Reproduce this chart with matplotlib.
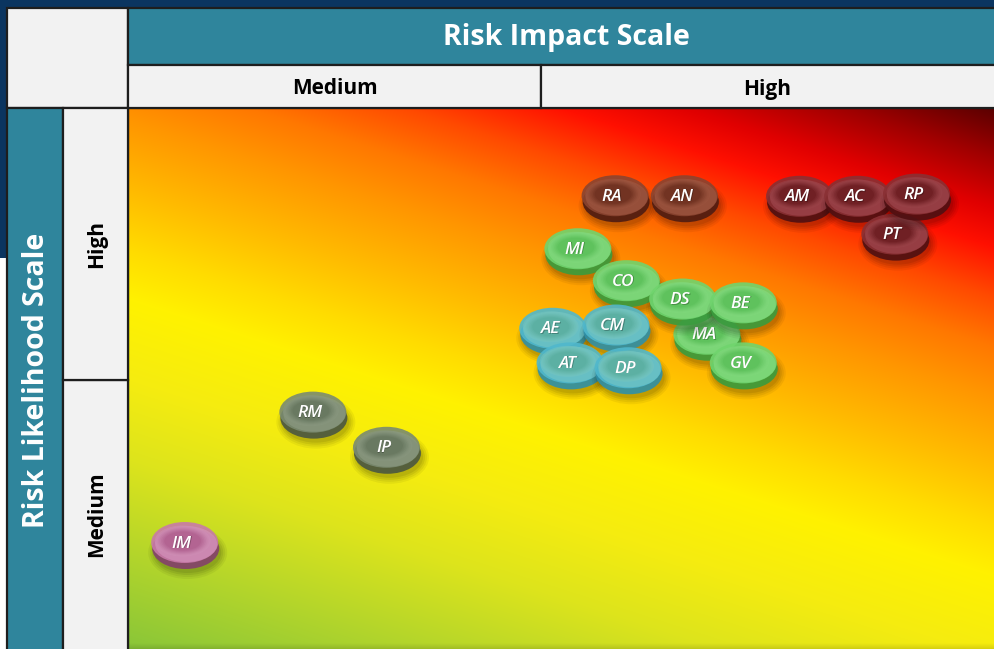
import numpy as np
import matplotlib
matplotlib.use("Agg")
import matplotlib.pyplot as plt
from matplotlib.patches import Rectangle, Ellipse
from matplotlib import colors as mcolors

# ---------------- data ----------------
impact_levels = ["Medium", "High"]
impact_bounds = [0, 47.7, 100]          # impact score (0-100) boundaries
likelihood_levels = ["Medium", "High"]
likelihood_bounds = [0, 49.7, 100]      # likelihood score (0-100) boundaries

labels = ["RA", "AN", "AM", "AC", "RP", "PT",
          "MI", "CO", "DS", "BE", "AE", "CM", "MA", "AT", "DP", "GV",
          "RM", "IP", "IM"]
impact = [55.9, 63.9, 77.2, 83.9, 90.7, 88.2,
          51.6, 57.2, 63.7, 70.7, 48.7, 56.0, 66.5, 50.7, 57.4, 70.7,
          21.0, 29.5, 6.2]
likelihood = [83.6, 83.6, 83.5, 83.5, 83.9, 76.5,
              73.8, 67.9, 64.5, 63.8, 59.1, 59.7, 58.0, 52.7, 51.8, 52.7,
              43.6, 37.1, 19.5]
groups = ["brown", "brown", "red", "red", "red", "red",
          "green", "green", "green", "green", "teal", "teal", "green", "teal", "teal", "green",
          "gray", "gray", "pink"]

# draw order (later = on top)
draw_order = ["RA", "AN", "AM", "AC", "PT", "RP",
              "MI", "AE", "CO", "MA", "DS", "BE", "CM", "AT", "DP", "GV",
              "RM", "IP", "IM"]

palette = {  # (rim, face edge, face centre, highlight)
    "brown": ("#4e1c12", "#8a4430", "#6e301f", "#a25a44"),
    "red":   ("#4e1012", "#8a3034", "#6c1c20", "#a24a50"),
    "green": ("#3a9c3e", "#70d46e", "#5cc05a", "#86dc82"),
    "teal":  ("#2f90a8", "#50b8cc", "#5aaea0", "#78c8c4"),
    "gray":  ("#4a5642", "#7a8a70", "#66765e", "#8e9c84"),
    "pink":  ("#84406c", "#c87aa8", "#b0608e", "#d496bc"),
}

# ---------------- figure ----------------
W, H = 994, 649
fig = plt.figure(figsize=(W / 100, H / 100), dpi=100)
fig.patch.set_facecolor("white")

NAVY = "#0b3560"
TEAL = "#2f859c"
LIGHT = "#f2f2f2"
EDGE = "#1e1e1e"

# heatmap area in pixels
HX0, HY0, HX1, HY1 = 128, 108, 994, 649
sx = (HX1 - HX0) / 100.0
sy = (HY1 - HY0) / 100.0


def frect(x0, y0, x1, y1, fc, ec=EDGE, lw=1.6, z=1):
    fig.patches.append(Rectangle((x0 / W, 1 - y1 / H), (x1 - x0) / W, (y1 - y0) / H,
                                 transform=fig.transFigure, facecolor=fc,
                                 edgecolor=ec, linewidth=lw, zorder=z))


def ftext(x, y, s, **kw):
    fig.text(x / W, 1 - y / H, s, ha="center", va="center",
             family=["Open Sans", "DejaVu Sans"], **kw)


# outer navy frame (top strip + upper left strip)
frect(0, 0, W, 8, NAVY, ec="none", lw=0)
frect(0, 0, 7, 258, NAVY, ec="none", lw=0)

# corner cell
frect(7, 8, HX0, HY0, LIGHT)
# top header
frect(HX0, 8, W + 2, 65, TEAL)
ftext((HX0 + W) / 2 + 5, 38, "Risk Impact Scale", color="white", fontsize=20.5, fontweight="bold")
# impact sub-headers
for i, lev in enumerate(impact_levels):
    x0 = HX0 + impact_bounds[i] * sx
    x1 = HX0 + impact_bounds[i + 1] * sx
    frect(x0, 65, x1 + (2 if i == len(impact_levels) - 1 else 0), HY0, LIGHT)
    ftext((x0 + x1) / 2, 89, lev, color="black", fontsize=15, fontweight="bold")
# left header
frect(7, HY0, 63, H + 2, TEAL)
ftext(37, (HY0 + H) / 2 + 2, "Risk Likelihood Scale", color="white", fontsize=20.5,
      fontweight="bold", rotation=90)
# likelihood sub-headers
for i, lev in enumerate(likelihood_levels):
    y1 = HY1 - likelihood_bounds[i] * sy
    y0 = HY1 - likelihood_bounds[i + 1] * sy
    frect(63, y0, HX0, y1 + (2 if i == 0 else 0), LIGHT)
    ftext(97, (y0 + y1) / 2, lev, color="black", fontsize=15, fontweight="bold", rotation=90)

# ---------------- heatmap axes ----------------
ax = fig.add_axes([HX0 / W, 0, (HX1 - HX0) / W, (HY1 - HY0) / H])
ax.set_xlim(0, 100)
ax.set_ylim(0, 100)
ax.axis("off")

# gradient background
stops_t = [-480, -420, -370, -330, -280, -230, -180, -110, -50, 0, 80, 160, 260, 360]
stops_c = ["#4a0000", "#a00000", "#e00000", "#ff1000", "#ff4a00", "#ff7800", "#ff9600",
           "#ffbb00", "#ffdc00", "#fff200", "#f5ec10", "#dde41c", "#b0d42c", "#84c43a"]
rgb = np.array([mcolors.to_rgb(c) for c in stops_c])
px = np.arange(HX0, HX1) + 0.5
py = np.arange(HY0, HY1) + 0.5
PX, PY = np.meshgrid(px, py)
T = PY - 300 - 0.32 * (PX - 128)
img = np.dstack([np.interp(T, stops_t, rgb[:, k]) for k in range(3)])
# subtle darkening at bottom edge
shade = np.clip((PY - (HY1 - 6)) / 6.0, 0, 1)[..., None]
img = img * (1 - 0.12 * shade)
ax.imshow(img, extent=(0, 100, 0, 100), aspect="auto", zorder=0, interpolation="bilinear")
ax.plot([0, 100], [100, 100], color=EDGE, lw=1.6, zorder=1, clip_on=False)
ax.plot([0, 0], [0, 100], color=EDGE, lw=1.6, zorder=1, clip_on=False)

# ---------------- bubbles ----------------
BW, BH = 67, 41   # bubble face size in pixels
idx = {lab: i for i, lab in enumerate(labels)}
for n, lab in enumerate(draw_order):
    i = idx[lab]
    x, y = impact[i], likelihood[i]
    rim, edge, centre, hi = palette[groups[i]]
    z = 10 + n * 20
    cx = x + 3 / sx
    cy = y + 1 / sy
    # soft shadow
    for dw, a in [(12, 0.05), (8, 0.06), (4, 0.07), (0, 0.08)]:
        ax.add_patch(Ellipse((cx + 3 / sx, cy - 10 / sy), (BW + dw) / sx, (BH + dw) / sy,
                             facecolor="black", edgecolor="none", alpha=a, zorder=z))
    # rim (thickness)
    ax.add_patch(Ellipse((cx + 1 / sx, cy - 6 / sy), BW / sx, BH / sy, facecolor=rim,
                         edgecolor="none", alpha=0.9, zorder=z + 1))
    # face base
    ax.add_patch(Ellipse((cx, cy), BW / sx, BH / sy, facecolor=edge,
                         edgecolor="none", alpha=0.9, zorder=z + 2))
    # lighter glassy crescent towards bottom-right
    ax.add_patch(Ellipse((cx + 1.5 / sx, cy - 1.5 / sy), (BW - 5) / sx, (BH - 5) / sy,
                         facecolor=hi, edgecolor="none", alpha=0.6, zorder=z + 3))
    # smooth fill towards the centre (shifted up-left)
    c0 = np.array(mcolors.to_rgb(hi))
    c1 = np.array(mcolors.to_rgb(centre))
    steps = 7
    for s in range(steps):
        f = (s + 1) / steps
        col = c0 * (1 - f) + c1 * f
        ww = (BW - 8) - f * 22
        hh = (BH - 8) - f * 14
        ax.add_patch(Ellipse((cx - 2 / sx, cy + 1.5 / sy), ww / sx, hh / sy,
                             facecolor=col, edgecolor="none", alpha=0.6, zorder=z + 4 + s))
    ax.text(x + 0.6 / sx, y - 0.6 / sy, lab, ha="center", va="center", color="black", alpha=0.25,
            fontsize=12.5, fontstyle="italic", fontweight="semibold",
            family=["Open Sans", "DejaVu Sans"], zorder=z + 15)
    ax.text(x, y, lab, ha="center", va="center", color="white", fontsize=12.5,
            fontstyle="italic", fontweight="semibold",
            family=["Open Sans", "DejaVu Sans"], zorder=z + 16)

fig.savefig("out.png", dpi=100, facecolor=fig.get_facecolor())
